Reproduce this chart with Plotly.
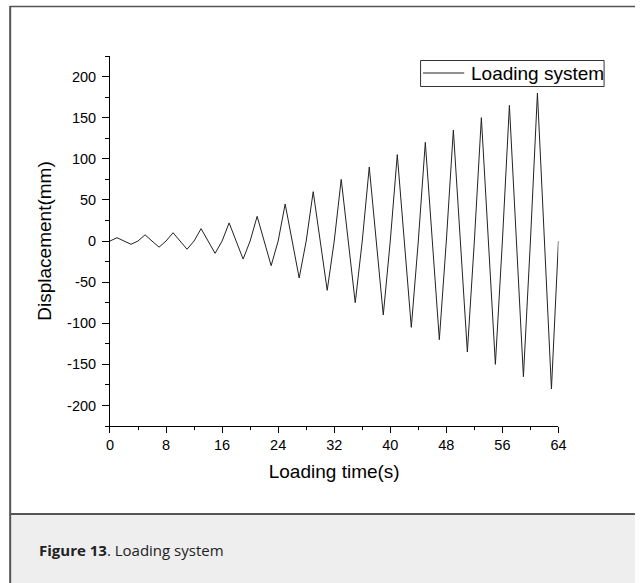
import plotly.graph_objects as go

# ---- data ----
time_s = [0, 1, 2, 3, 4, 5, 6, 7, 8, 9, 10, 11, 12, 13, 14, 15, 16,
          17, 18, 19, 20, 21, 22, 23, 24, 25, 26, 27, 28, 29, 30, 31, 32,
          33, 34, 35, 36, 37, 38, 39, 40, 41, 42, 43, 44, 45, 46, 47, 48,
          49, 50, 51, 52, 53, 54, 55, 56, 57, 58, 59, 60, 61, 62, 63, 64]
displacement_mm = [0, 4, 0, -4, 0, 7.5, 0, -7.5, 0, 10, 0, -10, 0, 15, 0, -15, 0,
                   22, 0, -22, 0, 30, 0, -30, 0, 45, 0, -45, 0, 60, 0, -60, 0,
                   75, 0, -75, 0, 90, 0, -90, 0, 105, 0, -105, 0, 120, 0, -120, 0,
                   135, 0, -135, 0, 150, 0, -150, 0, 165, 0, -165, 0, 180, 0, -180, 0]
x_ticks = [0, 8, 16, 24, 32, 40, 48, 56, 64]
y_ticks = [-200, -150, -100, -50, 0, 50, 100, 150, 200]
series_name = "Loading system"
x_title = "Loading time(s)"
y_title = "Displacement(mm)"
caption = "<b>Figure 13</b>. Loading system"

W, H = 643, 583
def px(x):
    return x / W
def py(y):
    return 1 - y / H

FONT = "Liberation Sans, Arial, sans-serif"
TICK_SIZE = 14.5

fig = go.Figure()
fig.add_trace(go.Scatter(x=time_s, y=displacement_mm, mode="lines",
                         name=series_name, showlegend=False,
                         line=dict(color="#222222", width=1)))

fig.update_layout(
    width=W, height=H,
    margin=dict(l=0, r=0, t=0, b=0),
    paper_bgcolor="white", plot_bgcolor="white",
    font=dict(family=FONT, color="black"),
    showlegend=False,
    xaxis=dict(domain=[px(108), px(565)], range=[0, 64],
               tickvals=x_ticks, ticktext=[str(v) for v in x_ticks],
               ticks="outside", ticklen=6, tickwidth=1, tickcolor="black",
               showline=True, linecolor="black", linewidth=1,
               showgrid=False, zeroline=False, mirror=False,
               tickfont=dict(family=FONT, size=TICK_SIZE, color="black"),
               minor=dict(dtick=4, tick0=0, ticks="outside", ticklen=3,
                          tickwidth=1, tickcolor="black", showgrid=False),
               title=dict(text=x_title, font=dict(family=FONT, size=19, color="black"),
                          standoff=12),
               anchor="y"),
    yaxis=dict(domain=[py(426), py(56)], range=[-225, 225],
               tickvals=y_ticks, ticktext=[str(v) for v in y_ticks],
               ticks="outside", ticklen=7, tickwidth=1, tickcolor="black",
               ticklabelstandoff=3,
               showline=True, linecolor="black", linewidth=1,
               showgrid=False, zeroline=False, mirror=False,
               tickfont=dict(family=FONT, size=TICK_SIZE, color="black"),
               minor=dict(dtick=25, tick0=0, ticks="outside", ticklen=4,
                          tickwidth=1, tickcolor="black", showgrid=False),
               title=dict(text=y_title, font=dict(family=FONT, size=19, color="black"),
                          standoff=10),
               anchor="x"),
)

# legend box: frame, sample line and label
fig.add_shape(type="rect", xref="paper", yref="paper",
              x0=px(424.5), x1=px(611.5), y0=py(86.5), y1=py(60.5),
              fillcolor="white", line=dict(color="#333333", width=1), layer="above")
fig.add_shape(type="line", xref="paper", yref="paper",
              x0=px(427), x1=px(469), y0=py(73), y1=py(73),
              line=dict(color="#222222", width=1), layer="above")
fig.add_annotation(text=series_name, xref="paper", yref="paper",
                   x=px(474), y=py(73.5), xanchor="left", yanchor="middle",
                   showarrow=False,
                   font=dict(family=FONT, size=19, color="black"))

# frame and caption panel
fig.add_shape(type="rect", xref="paper", yref="paper",
              x0=px(6), x1=1.0, y0=0, y1=py(514),
              fillcolor="#eeeeee", line=dict(width=0), layer="below")
fig.add_shape(type="line", xref="paper", yref="paper",
              x0=px(6), x1=1.0, y0=py(6.5), y1=py(6.5),
              line=dict(color="#555555", width=1.5))
fig.add_shape(type="line", xref="paper", yref="paper",
              x0=px(6), x1=1.0, y0=py(514), y1=py(514),
              line=dict(color="#555555", width=2))
fig.add_shape(type="line", xref="paper", yref="paper",
              x0=px(6.3), x1=px(6.3), y0=0, y1=py(6),
              line=dict(color="#555555", width=2))

fig.add_annotation(text=caption, xref="paper", yref="paper",
                   x=px(34), y=py(550), xanchor="left", yanchor="middle",
                   showarrow=False,
                   font=dict(family="Open Sans, Noto Sans, sans-serif", size=15, color="#222222"))

fig.write_html("out.html",
               post_script="document.body.style.margin='0';document.body.style.overflow='hidden';")
